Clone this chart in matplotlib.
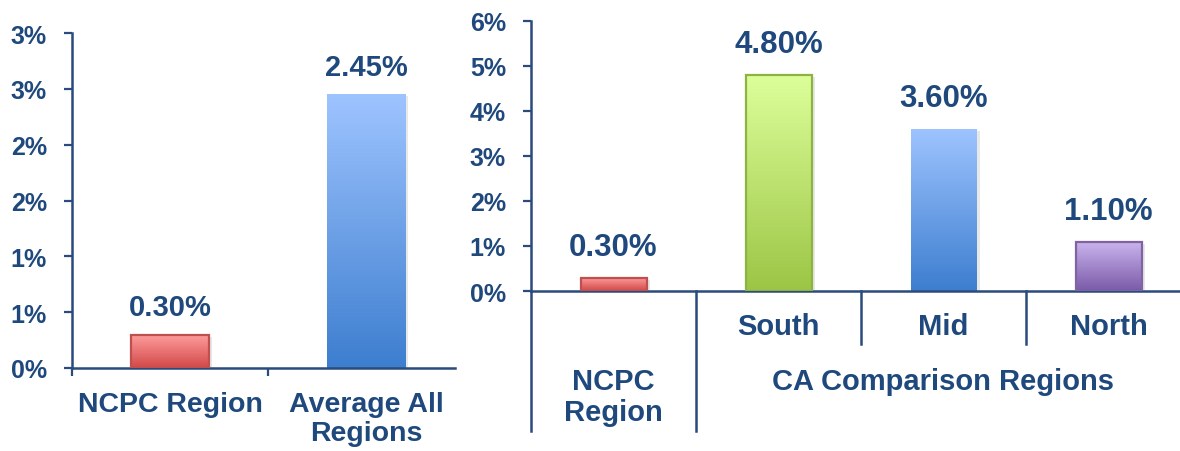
import numpy as np
import matplotlib
matplotlib.use("Agg")
import matplotlib.pyplot as plt
from matplotlib.colors import to_rgb
from matplotlib.patches import Rectangle
import matplotlib.transforms as mtransforms

plt.rcParams['font.family'] = ['Liberation Sans', 'DejaVu Sans']
plt.rcParams['font.weight'] = 'bold'

# Data
left_cats = ["NCPC Region", "Average All\nRegions"]
left_vals = [0.30, 2.45]
left_ticks = [0, 0.5, 1.0, 1.5, 2.0, 2.5, 3.0]
left_ticklabels = ["0%", "1%", "1%", "2%", "2%", "3%", "3%"]

right_cats = ["", "South", "Mid", "North"]
right_vals = [0.30, 4.80, 3.60, 1.10]
right_groups = ["NCPC\nRegion", "CA Comparison Regions"]
right_ticks = [0, 1, 2, 3, 4, 5, 6]

TXT = "#1F497D"
AX = "#2B4B7C"

# (top colour, bottom colour, edge colour)
red = ("#FF9E9E", "#D24848", "#C0504D")
blue = ("#9EC4FF", "#3D7ECF", None)
green = ("#DDFF9B", "#9CC545", "#8DB442")
purple = ("#CBB5EE", "#7A5AA8", "#8064A2")


def gradient_bar(ax, x, h, w, style):
    top, bottom, edge = style
    # soft shadow
    shadow = Rectangle((x - w / 2, 0), w, h, facecolor='#808080', alpha=0.18,
                       edgecolor='none', zorder=1,
                       transform=ax.transData + mtransforms.ScaledTranslation(
                           3 / 100, -2 / 100, ax.figure.dpi_scale_trans))
    ax.add_patch(shadow)
    bar = ax.bar(x, h, w, color='none',
                 edgecolor=edge if edge else 'none',
                 linewidth=1.6 if edge else 0, zorder=3)[0]
    g = np.linspace(0, 1, 256)[:, None, None]
    t = np.array(to_rgb(top))[None, None, :]
    b = np.array(to_rgb(bottom))[None, None, :]
    img = t * (1 - g) + b * g
    im = ax.imshow(img, extent=[x - w / 2, x + w / 2, 0, h], aspect='auto',
                   origin='upper', zorder=2)
    im.set_clip_path(bar)


fig = plt.figure(figsize=(11.8, 4.52), dpi=100)

# ---------------- left chart ----------------
ax1 = fig.add_axes([72 / 1180, 83 / 452, (464 - 72) / 1180, 335 / 452])
styles1 = [red, blue]
for i, v in enumerate(left_vals):
    gradient_bar(ax1, i, v, 0.40, styles1[i])
    ax1.annotate(f"{v:.2f}%", (i, v), xytext=(0, 20), textcoords='offset points',
                 ha='center', va='center', fontsize=21, color=TXT, fontweight='bold')
ax1.set_xlim(-0.5, 1.5)
ax1.set_ylim(0, 3)
ax1.set_yticks(left_ticks)
ax1.set_yticklabels(left_ticklabels)
ax1.set_xticks([])
ax1.set_xticks([-0.5, 0.5], minor=True)
ax1.tick_params(axis='x', which='minor', length=6, width=1.6, color=AX, direction='out')
ax1.tick_params(axis='y', length=6, width=1.6, color=AX, labelsize=18,
                labelcolor=TXT, pad=12)
for s in ['top', 'right']:
    ax1.spines[s].set_visible(False)
for s in ['left', 'bottom']:
    ax1.spines[s].set_color(AX)
    ax1.spines[s].set_linewidth(1.8)
ax1.spines['bottom'].set_bounds(-0.5, 1.455)
for i, c in enumerate(left_cats):
    ax1.text(i, -0.07, c, transform=ax1.get_xaxis_transform(), ha='center', va='top',
             fontsize=20.5, color=TXT, fontweight='bold', linespacing=1.15)

# ---------------- right chart ----------------
ax2 = fig.add_axes([531 / 1180, 160 / 452, (1180 - 531) / 1180, 270 / 452])
styles2 = [red, green, blue, purple]
for i, v in enumerate(right_vals):
    gradient_bar(ax2, i, v, 0.40, styles2[i])
    ax2.annotate(f"{v:.2f}%", (i, v), xytext=(0, 22), textcoords='offset points',
                 ha='center', va='center', fontsize=22.5, color=TXT, fontweight='bold')
ax2.set_xlim(-0.5, (1180 - 531) / 165 - 0.5)
ax2.set_ylim(0, 6)
ax2.set_yticks(right_ticks)
ax2.set_yticklabels([f"{t}%" for t in right_ticks])
ax2.set_xticks([])
ax2.tick_params(axis='y', length=6, width=1.6, color=AX, labelsize=18,
                labelcolor=TXT, pad=12)
for s in ['top', 'right']:
    ax2.spines[s].set_visible(False)
for s in ['left', 'bottom']:
    ax2.spines[s].set_color(AX)
    ax2.spines[s].set_linewidth(1.8)

xt = ax2.get_xaxis_transform()
# group separators below the axis
for xb, ylow in [(-0.5, -0.52), (0.5, -0.52), (1.5, -0.196), (2.5, -0.196)]:
    ax2.plot([xb, xb], [0, ylow], transform=xt, color=AX, lw=1.8, clip_on=False)
for i, c in enumerate(right_cats):
    if c:
        ax2.text(i, -0.13, c, transform=xt, ha='center', va='center',
                 fontsize=21, color=TXT, fontweight='bold')
ax2.text(0, -0.39, right_groups[0], transform=xt, ha='center', va='center',
         fontsize=21, color=TXT, fontweight='bold', linespacing=1.15)
ax2.text(2, -0.333, right_groups[1], transform=xt, ha='center', va='center',
         fontsize=21, color=TXT, fontweight='bold')

fig.savefig("out.png", dpi=100)
